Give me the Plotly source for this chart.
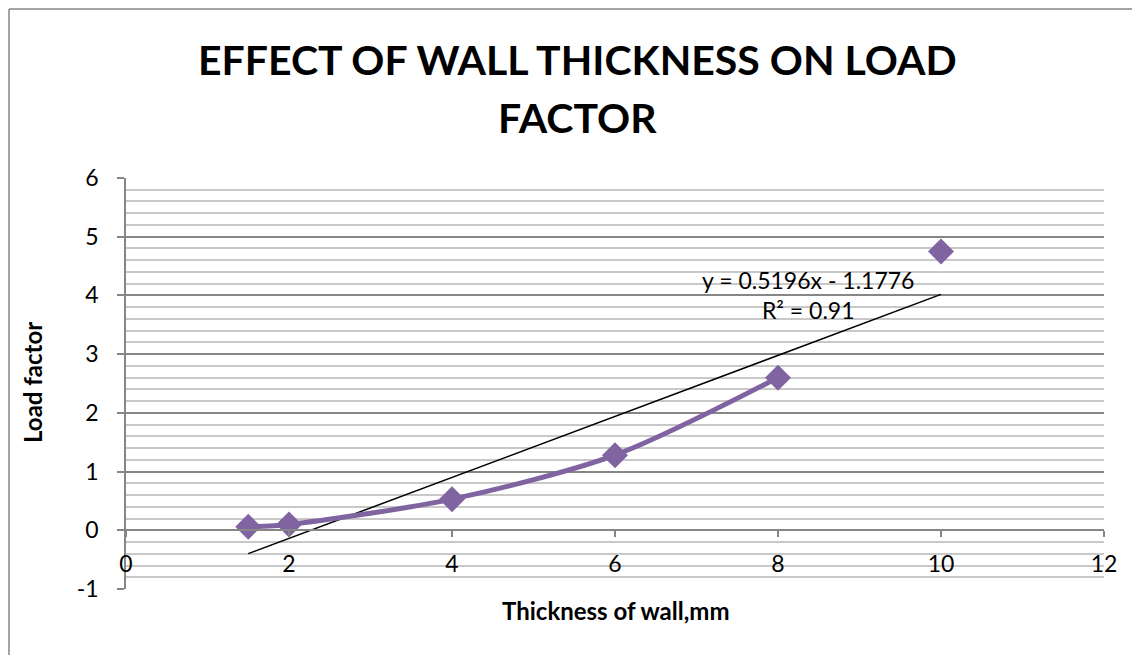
import plotly.graph_objects as go
import numpy as np

# Data
thickness_mm = [1.5, 2, 4, 6, 8, 10]
load_factor = [0.06, 0.1, 0.53, 1.28, 2.6, 4.75]
n_line_points = 5  # smooth line joins the first five points
trend_slope = 0.5196
trend_intercept = -1.1776
r_squared = 0.91
x_ticks = [0, 2, 4, 6, 8, 10, 12]
y_ticks = [-1, 0, 1, 2, 3, 4, 5, 6]
y_tick_text = ["-1", "0", "1", "2", "3", "4", "5", "6"]
title_lines = ["EFFECT OF WALL THICKNESS ON LOAD", "FACTOR"]

FONT = "Lato"
PURPLE = "#8064A2"
OFF = 8  # page body margin

fig = go.Figure()

# Linear trendline
tx = np.array([min(thickness_mm), max(thickness_mm)])
fig.add_trace(go.Scatter(x=tx, y=trend_slope * tx + trend_intercept, mode="lines",
                         line=dict(color="black", width=1.5), hoverinfo="skip"))

# Smoothed line through first points
fig.add_trace(go.Scatter(x=thickness_mm[:n_line_points], y=load_factor[:n_line_points],
                         mode="lines", line=dict(color=PURPLE, width=5, shape="spline", smoothing=0.8)))

# Markers
fig.add_trace(go.Scatter(x=thickness_mm, y=load_factor, mode="markers",
                         marker=dict(symbol="diamond", size=20, color=PURPLE)))

W, H = 1140 - OFF, 655 - OFF
plot_l, plot_r, plot_t, plot_b = 126 - OFF, 1104 - OFF, 178 - OFF, 589 - OFF
pw, ph = plot_r - plot_l, plot_b - plot_t

def px_x(p):
    return (p - OFF - plot_l) / pw

def px_y(p):
    return (plot_b - (p - OFF)) / ph

fig.update_layout(
    width=W, height=H,
    margin=dict(l=plot_l, r=W - plot_r, t=plot_t, b=H - plot_b, pad=0),
    paper_bgcolor="white", plot_bgcolor="white",
    showlegend=False,
    font=dict(family=FONT, color="black"),
    xaxis=dict(range=[0, 12], tickvals=x_ticks, showgrid=False, zeroline=False,
               showline=True, linecolor="#868686", linewidth=1.5,
               ticks="outside", ticklen=6, tickcolor="#868686", tickwidth=1.5,
               anchor="free", position=1 / 7,
               tickfont=dict(size=23, family=FONT), ticklabelstandoff=7),
    yaxis=dict(range=[-1, 6], tickvals=y_ticks, ticktext=y_tick_text,
               showgrid=True, gridcolor="#868686", gridwidth=1.5,
               zeroline=False, showline=True, linecolor="#868686", linewidth=1.5,
               ticks="outside", ticklen=7, tickcolor="#868686", tickwidth=1.5,
               tickfont=dict(size=23, family=FONT), ticklabelstandoff=14,
               minor=dict(dtick=0.2, showgrid=True, gridcolor="#c8c8c8", gridwidth=1.5, ticks="")),
)

for line_text, cy in zip(title_lines, [59, 118]):
    fig.add_annotation(text=f"<b>{line_text}</b>", x=px_x(577), xref="paper", y=px_y(cy), yref="paper",
                       showarrow=False, font=dict(size=41, family=FONT),
                       xanchor="center", yanchor="middle")

fig.add_annotation(text="<b>Thickness of wall,mm</b>", x=px_x(616), xref="paper", y=px_y(610),
                   yref="paper", showarrow=False, font=dict(size=24, family=FONT),
                   xanchor="center", yanchor="middle")

fig.add_annotation(text="<b>Load factor</b>", x=px_x(32), xref="paper", y=px_y(383), yref="paper",
                   showarrow=False, textangle=-90, font=dict(size=24, family=FONT),
                   xanchor="center", yanchor="middle")

fig.add_annotation(text=f"y = {trend_slope}x - {abs(trend_intercept)}<br>R² = {r_squared}",
                   x=px_x(808), xref="paper", y=px_y(295), yref="paper",
                   showarrow=False, font=dict(size=23, family=FONT), align="center",
                   xanchor="center", yanchor="middle")

# chart border (only left and top edges visible in the frame)
fig.add_shape(type="line", xref="paper", yref="paper",
              x0=px_x(9), x1=px_x(9), y0=px_y(655), y1=px_y(9),
              line=dict(color="#868686", width=1.5))
fig.add_shape(type="line", xref="paper", yref="paper",
              x0=px_x(9), x1=px_x(1140), y0=px_y(9), y1=px_y(9),
              line=dict(color="#868686", width=1.5))

fig.write_html("out.html")
